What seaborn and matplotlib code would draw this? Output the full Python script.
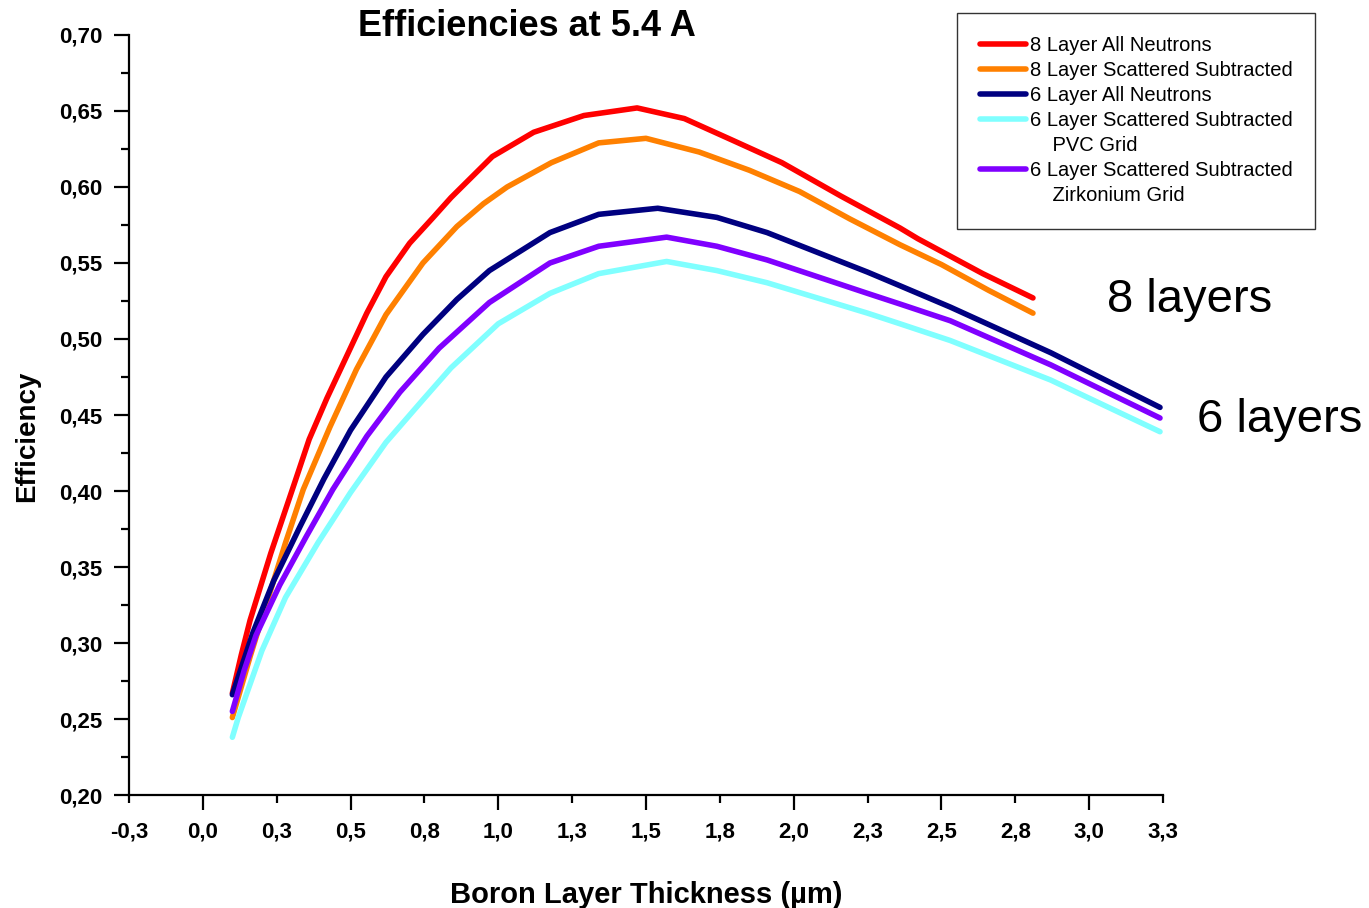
import numpy as np
import pandas as pd
import matplotlib
matplotlib.use("Agg")
import matplotlib.pyplot as plt
from matplotlib.lines import Line2D
import seaborn as sns

# values
red_x = [0.10, 0.13, 0.16, 0.23, 0.31, 0.36, 0.42, 0.49, 0.555, 0.62, 0.70, 0.78, 0.84,
         0.98, 1.12, 1.29, 1.47, 1.63, 1.79, 1.96, 2.16, 2.36, 2.42, 2.64, 2.81]
red_y = [0.267, 0.292, 0.315, 0.359, 0.405, 0.434, 0.461, 0.490, 0.517, 0.541, 0.563, 0.580, 0.593,
         0.620, 0.636, 0.647, 0.652, 0.645, 0.631, 0.616, 0.594, 0.573, 0.566, 0.543, 0.527]

orange_x = [0.10, 0.16, 0.23, 0.28, 0.34, 0.43, 0.52, 0.62, 0.745, 0.86, 0.95, 1.03, 1.18, 1.34, 1.50, 1.68,
            1.85, 2.02, 2.19, 2.36, 2.50, 2.66, 2.81]
orange_y = [0.251, 0.291, 0.335, 0.366, 0.401, 0.442, 0.480, 0.516, 0.550, 0.574, 0.589, 0.600, 0.616, 0.629, 0.632, 0.623,
            0.611, 0.597, 0.579, 0.562, 0.549, 0.532, 0.517]

navy_x = [0.10, 0.17, 0.24, 0.33, 0.41, 0.50, 0.62, 0.745, 0.86, 0.97, 1.175, 1.34, 1.54, 1.74, 1.91, 2.08,
          2.25, 2.36, 2.53, 2.87, 3.24]
navy_y = [0.266, 0.307, 0.341, 0.377, 0.408, 0.440, 0.475, 0.503, 0.526, 0.545, 0.570, 0.582, 0.586, 0.580, 0.570, 0.557,
          0.544, 0.535, 0.521, 0.491, 0.455]

purple_x = [0.10, 0.14, 0.18, 0.26, 0.35, 0.44, 0.555, 0.667, 0.80, 0.97, 1.175, 1.34, 1.57, 1.74, 1.91, 2.08,
            2.25, 2.36, 2.53, 2.87, 3.24]
purple_y = [0.255, 0.282, 0.305, 0.338, 0.370, 0.401, 0.436, 0.465, 0.494, 0.524, 0.550, 0.561, 0.567, 0.561, 0.552, 0.541,
            0.530, 0.523, 0.512, 0.483, 0.448]

cyan_x = [0.10, 0.12, 0.20, 0.28, 0.39, 0.50, 0.62, 0.745, 0.84, 1.00, 1.175, 1.34, 1.57, 1.74, 1.91, 2.08,
          2.25, 2.36, 2.53, 2.87, 3.24]
cyan_y = [0.238, 0.251, 0.295, 0.330, 0.366, 0.399, 0.432, 0.460, 0.481, 0.510, 0.530, 0.543, 0.551, 0.545, 0.537, 0.527,
          0.517, 0.510, 0.499, 0.473, 0.439]

series_names = ["8 Layer All Neutrons", "8 Layer Scattered Subtracted", "6 Layer All Neutrons",
                "6 Layer Scattered Subtracted PVC", "6 Layer Scattered Subtracted Zr"]
legend_labels = ["8 Layer All Neutrons", "8 Layer Scattered Subtracted", "6 Layer All Neutrons",
                 "6 Layer Scattered Subtracted", "    PVC Grid", "6 Layer Scattered Subtracted", "    Zirkonium Grid"]
colors = ["#FF0000", "#FF8000", "#000080", "#80FFFF", "#8000FF"]

x_major = [0.0, 0.5, 1.0, 1.5, 2.0, 2.5, 3.0]
x_major_labels = ["0,0", "0,5", "1,0", "1,5", "2,0", "2,5", "3,0"]
x_minor = [-0.25, 0.25, 0.75, 1.25, 1.75, 2.25, 2.75, 3.25]
x_minor_labels = ["-0,3", "0,3", "0,8", "1,3", "1,8", "2,3", "2,8", "3,3"]
y_major = [0.20, 0.25, 0.30, 0.35, 0.40, 0.45, 0.50, 0.55, 0.60, 0.65, 0.70]
y_major_labels = ["0,20", "0,25", "0,30", "0,35", "0,40", "0,45", "0,50", "0,55", "0,60", "0,65", "0,70"]

frames = []
for name, xs, ys in zip(series_names,
                        [red_x, orange_x, navy_x, cyan_x, purple_x],
                        [red_y, orange_y, navy_y, cyan_y, purple_y]):
    frames.append(pd.DataFrame({"x": xs, "y": ys, "series": name}))
df = pd.concat(frames, ignore_index=True)

sns.set_style("ticks")
plt.rcParams["font.family"] = ["Liberation Sans", "DejaVu Sans"]
plt.rcParams["text.color"] = "black"
plt.rcParams["axes.labelcolor"] = "black"
plt.rcParams["xtick.color"] = "black"
plt.rcParams["ytick.color"] = "black"

fig = plt.figure(figsize=(13.69, 9.08), dpi=100)
ax = fig.add_axes([0.0942, 0.1244, 0.7553, 0.8371])

palette = dict(zip(series_names, colors))
sns.lineplot(data=df, x="x", y="y", hue="series", palette=palette, linewidth=4,
             legend=False, ax=ax, sort=False, estimator=None)
for ln in ax.get_lines():
    ln.set_solid_joinstyle("round")
    ln.set_solid_capstyle("round")

ax.set_xlim(-0.25, 3.25)
ax.set_ylim(0.20, 0.70)
sns.despine(ax=ax)
for s in ["left", "bottom"]:
    ax.spines[s].set_linewidth(1.6)
    ax.spines[s].set_color("black")

ax.set_xticks(x_major)
ax.set_xticklabels(x_major_labels)
ax.set_xticks(x_minor, minor=True)
ax.set_xticklabels(x_minor_labels, minor=True)
ax.set_yticks(y_major)
ax.set_yticklabels(y_major_labels)
ax.set_yticks(np.arange(0.225, 0.70, 0.05), minor=True)

ax.tick_params(axis="both", which="major", length=11, width=1.6, direction="out", color="black")
ax.tick_params(axis="both", which="minor", length=6, width=1.6, direction="out", color="black")
ax.tick_params(axis="x", which="major", pad=8)
ax.tick_params(axis="x", which="minor", pad=13)
ax.tick_params(axis="y", which="major", pad=8)
for lab in ax.get_xticklabels(which="both") + ax.get_yticklabels():
    lab.set_fontsize(16)
    lab.set_fontweight("bold")
    lab.set_color("black")

ax.set_xlabel("Boron Layer Thickness (\u00b5m)", fontsize=21, fontweight="bold", labelpad=28)
ax.set_ylabel("Efficiency", fontsize=20, fontweight="bold")
ax.yaxis.set_label_coords(-0.086, 0.472)

fig.text(0.385, 0.971, "Efficiencies at 5.4 A", fontsize=26, fontweight="bold", ha="center", va="center")

handles = []
handle_colors = [colors[0], colors[1], colors[2], colors[3], None, colors[4], None]
for c in handle_colors:
    if c is None:
        handles.append(Line2D([], [], color="none"))
    else:
        handles.append(Line2D([], [], color=c, linewidth=4))
leg = fig.legend(handles, legend_labels, loc="upper left", bbox_to_anchor=(957 / 1369, 1 - 13 / 908),
                 fontsize=14.5, frameon=True, fancybox=False, shadow=False, handlelength=2.3,
                 handletextpad=0.15, labelspacing=0.3, borderpad=1.15, borderaxespad=0)
leg.get_frame().set_edgecolor("black")
leg.get_frame().set_linewidth(1.0)
for t in leg.get_texts():
    t.set_color("black")

fig.text(1190 / 1369, 1 - 300 / 908, "8 layers", fontsize=34, ha="center", va="center")
fig.text(1280 / 1369, 1 - 420 / 908, "6 layers", fontsize=34, ha="center", va="center")

fig.savefig("out.png", dpi=100)
